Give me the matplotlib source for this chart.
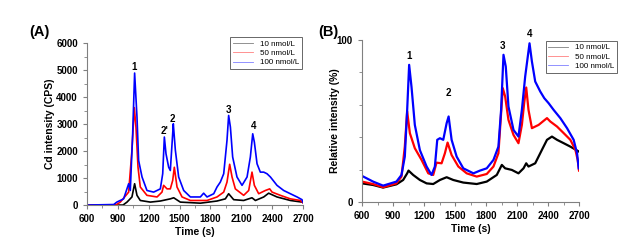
import matplotlib
matplotlib.use("Agg")
import matplotlib.pyplot as plt
from matplotlib.ticker import MultipleLocator, FixedLocator

plt.rcParams['font.family'] = ['Liberation Sans', 'DejaVu Sans']

# ---------------- Panel A data (Cd intensity, CPS) ----------------
tA_blue = [600, 860, 890, 956, 1005, 1021, 1044, 1063, 1086, 1102, 1135, 1183, 1248, 1313,
           1336, 1352, 1368, 1394, 1410, 1433, 1439, 1459, 1491, 1540, 1605, 1702, 1734,
           1767, 1832, 1864, 1896, 1929, 1961, 1977, 1994, 2016, 2058, 2107, 2156, 2188,
           2211, 2227, 2253, 2285, 2318, 2350, 2383, 2447, 2512, 2577, 2642, 2690, 2700]
yA_blue = [0, 20, 110, 230, 790, 540, 2640, 4890, 3260, 1650, 1040, 540, 480, 600,
           1160, 2520, 1900, 1400, 1280, 2640, 3010, 2030, 1040, 540, 300, 300, 440,
           300, 420, 670, 850, 1160, 2400, 3320, 2890, 1780, 1040, 730, 1040, 1780,
           2640, 2330, 1530, 1220, 1220, 1160, 1040, 730, 540, 420, 300, 200, 100]

tA_red = [600, 880, 924, 1005, 1037, 1060, 1076, 1096, 1118, 1183, 1281, 1329, 1345, 1378,
          1410, 1433, 1449, 1475, 1524, 1605, 1767, 1864, 1929, 1961, 1987, 2010, 2042,
          2123, 2172, 2204, 2227, 2269, 2334, 2376, 2399, 2480, 2577, 2674, 2700]
yA_red = [0, 0, 110, 480, 2030, 3610, 2890, 1400, 670, 360, 300, 480, 730, 600,
          600, 910, 1400, 670, 300, 170, 170, 300, 480, 850, 1510, 1040, 600,
          360, 540, 1220, 730, 420, 540, 600, 480, 360, 230, 170, 80]

tA_black = [600, 950, 989, 1037, 1063, 1086, 1118, 1216, 1313, 1410, 1443, 1507, 1702,
            1864, 1945, 1977, 2026, 2123, 2204, 2237, 2318, 2366, 2447, 2577, 2690, 2700]
yA_black = [0, 0, 110, 300, 790, 360, 170, 110, 150, 230, 270, 110, 70,
            150, 230, 420, 200, 170, 270, 170, 300, 440, 300, 170, 110, 100]

# ---------------- Panel B data (relative intensity, %) ----------------
tB_blue = [600, 707, 804, 933, 982, 1014, 1037, 1056, 1079, 1111, 1160, 1225, 1273, 1305,
           1328, 1354, 1386, 1419, 1438, 1467, 1516, 1580, 1678, 1742, 1807, 1872, 1920,
           1946, 1969, 1991, 2017, 2066, 2114, 2147, 2179, 2221, 2244, 2276, 2325, 2364,
           2406, 2454, 2519, 2584, 2648, 2681, 2697]
yB_blue = [16.1, 12.6, 10.1, 12.6, 16.7, 28.0, 57.0, 84.7, 71.0, 47.6, 32.0, 21.9, 16.7, 21.9,
           38.4, 39.4, 38.4, 48.7, 52.8, 38.4, 28.0, 20.8, 17.7, 19.4, 20.8, 26.0, 34.2,
           56.9, 90.9, 83.7, 59.0, 44.5, 40.4, 56.9, 77.5, 98.0, 86.8, 74.4, 68.2, 64.1,
           61.0, 56.9, 51.8, 45.6, 38.4, 30.1, 20.8]

tB_red = [600, 707, 804, 933, 982, 1014, 1037, 1063, 1111, 1176, 1241, 1289, 1321, 1370,
          1402, 1428, 1467, 1532, 1613, 1710, 1807, 1872, 1920, 1946, 1962, 1985, 2017,
          2066, 2114, 2147, 2169, 2189, 2211, 2244, 2309, 2390, 2422, 2487, 2552, 2616,
          2665, 2687, 2700]
yB_red = [12.6, 11.1, 9.1, 11.5, 15.7, 34.2, 55.9, 42.5, 33.2, 26.0, 17.7, 16.7, 24.3, 23.9,
          30.1, 36.7, 29.0, 21.9, 17.7, 15.7, 17.3, 21.9, 30.1, 54.8, 70.3, 65.2, 50.7,
          41.4, 36.3, 47.6, 61.0, 70.7, 56.9, 45.6, 47.6, 51.8, 49.7, 46.6, 42.5, 38.4,
          32.2, 26.0, 19.4]

tB_black = [600, 707, 804, 933, 998, 1037, 1050, 1095, 1160, 1225, 1289, 1354, 1419, 1483,
            1580, 1710, 1807, 1904, 1953, 1985, 2050, 2114, 2163, 2189, 2211, 2276, 2341,
            2390, 2438, 2487, 2552, 2616, 2700]
yB_black = [11.5, 10.5, 8.9, 10.9, 13.6, 17.7, 19.4, 16.7, 13.6, 11.5, 11.1, 13.6, 15.3, 13.6,
            12.0, 11.1, 12.6, 16.7, 22.9, 20.8, 19.8, 17.7, 20.8, 23.9, 21.9, 23.9, 32.2,
            38.4, 40.4, 38.4, 36.3, 34.2, 31.1]

series_labels = ["10 nmol/L", "50 nmol/L", "100 nmol/L"]
series_colors = ["black", "red", "blue"]

peakA_labels = ["1", "2'", "2", "3", "4"]
peakA_t = [1060, 1352, 1433, 1980, 2220]
peakA_y = [5110, 2740, 3200, 3530, 2930]

peakB_labels = ["1", "2", "3", "4"]
peakB_t = [1056, 1435, 1962, 2221]
peakB_y = [89.9, 67.2, 96.5, 103.7]

fig = plt.figure(figsize=(6.42, 2.45), dpi=100)
axA = fig.add_axes([0.1355, 0.163, 0.3365, 0.6612])
axB = fig.add_axes([0.5639, 0.1755, 0.338, 0.661])

spine_col = "#808080"
tick_fs = 7


def style(ax):
    for s in ["top", "right"]:
        ax.spines[s].set_visible(False)
    for s in ["left", "bottom"]:
        ax.spines[s].set_color(spine_col)
        ax.spines[s].set_linewidth(0.8)
    ax.tick_params(which="both", color=spine_col, direction="out", labelsize=tick_fs)
    ax.tick_params(which="major", length=3)
    ax.tick_params(which="minor", length=2)
    for lab in ax.get_xticklabels() + ax.get_yticklabels():
        lab.set_fontweight("bold")
    ax.set_xlim(600, 2700)
    ax.xaxis.set_major_locator(MultipleLocator(300))
    ax.xaxis.set_minor_locator(MultipleLocator(150))
    ax.set_xlabel("Time (s)", fontsize=7.5, fontweight="bold", labelpad=2)


def legend(ax, anchor):
    leg = ax.legend(loc="upper right", bbox_to_anchor=anchor, fontsize=5.8, frameon=True,
                    fancybox=False, edgecolor="#404040", handlelength=2.5, borderpad=0.35,
                    labelspacing=0.22, handletextpad=0.8, borderaxespad=0.0)
    for h in leg.get_lines():
        h.set_linewidth(0.6)
        h.set_alpha(0.5)
    leg.get_frame().set_linewidth(0.7)
    return leg


# Panel A
for t, y, lab, c in zip([tA_black, tA_red, tA_blue], [yA_black, yA_red, yA_blue],
                        series_labels, series_colors):
    axA.plot(t, y, color=c, lw=1.2, label=lab)
axA.set_ylim(0, 6000)
axA.yaxis.set_major_locator(MultipleLocator(1000))
axA.yaxis.set_minor_locator(MultipleLocator(500))
style(axA)
axA.set_ylabel("Cd intensity (CPS)", fontsize=7.5, fontweight="bold", labelpad=1)
for lab, t, y in zip(peakA_labels, peakA_t, peakA_y):
    axA.text(t, y, lab, ha="center", va="center", fontsize=7, fontweight="bold")
legend(axA, (0.995, 1.037))

# Panel B
for t, y, lab, c in zip([tB_black, tB_red, tB_blue], [yB_black, yB_red, yB_blue],
                        series_labels, series_colors):
    axB.plot(t, y, color=c, lw=1.6, label=lab)
axB.set_ylim(0, 100)
axB.yaxis.set_major_locator(FixedLocator([0, 100]))
axB.yaxis.set_minor_locator(FixedLocator([20, 40, 60, 80]))
style(axB)
axB.set_ylabel("Relative intensity (%)", fontsize=7.5, fontweight="bold", labelpad=-2)
for lab, t, y in zip(peakB_labels, peakB_t, peakB_y):
    axB.text(t, y, lab, ha="center", va="center", fontsize=7, fontweight="bold", clip_on=False)
legend(axB, (1.175, 0.995))

fig.text(29 / 642, 1 - 32 / 245, "(A)", fontsize=10.5, fontweight="bold", va="center")
fig.text(318 / 642, 1 - 32 / 245, "(B)", fontsize=10.5, fontweight="bold", va="center")

fig.savefig("out.png", dpi=100, facecolor="white")
